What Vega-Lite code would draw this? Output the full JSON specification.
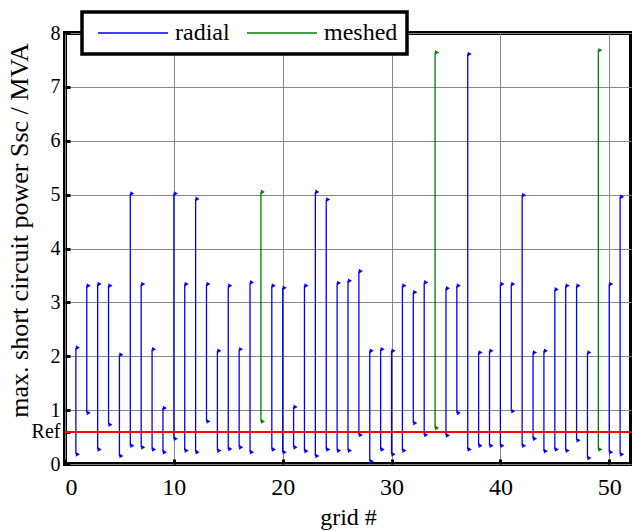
{
  "$schema": "https://vega.github.io/schema/vega-lite/v6.json",
  "width": 566,
  "height": 431,
  "autosize": "none",
  "padding": {"left": 65, "top": 33, "right": 1, "bottom": 67},
  "background": "white",
  "config": {
    "font": "Liberation Serif",
    "view": {"stroke": "black", "strokeWidth": 4},
    "axis": {
      "labelFont": "Liberation Serif",
      "titleFont": "Liberation Serif",
      "labelFontSize": 24,
      "titleFontSize": 24,
      "titleFontWeight": "normal",
      "labelColor": "black",
      "titleColor": "black",
      "gridColor": "#888888",
      "gridOpacity": 1,
      "gridWidth": 1,
      "domain": false,
      "tickColor": "black",
      "tickWidth": 3,
      "tickSize": -5,
      "labelOverlap": false
    },
    "legend": {"strokeWidth": 3.5}
  },
  "data": {
    "values": [
      {"grid": 1, "min": 0.18, "max": 2.16, "type": "radial"},
      {"grid": 2, "min": 0.95, "max": 3.31, "type": "radial"},
      {"grid": 3, "min": 0.27, "max": 3.34, "type": "radial"},
      {"grid": 4, "min": 0.73, "max": 3.31, "type": "radial"},
      {"grid": 5, "min": 0.15, "max": 2.03, "type": "radial"},
      {"grid": 6, "min": 0.34, "max": 5.02, "type": "radial"},
      {"grid": 7, "min": 0.31, "max": 3.34, "type": "radial"},
      {"grid": 8, "min": 0.27, "max": 2.13, "type": "radial"},
      {"grid": 9, "min": 0.22, "max": 1.04, "type": "radial"},
      {"grid": 10, "min": 0.47, "max": 5.02, "type": "radial"},
      {"grid": 11, "min": 0.25, "max": 3.34, "type": "radial"},
      {"grid": 12, "min": 0.22, "max": 4.92, "type": "radial"},
      {"grid": 13, "min": 0.79, "max": 3.34, "type": "radial"},
      {"grid": 14, "min": 0.25, "max": 2.10, "type": "radial"},
      {"grid": 15, "min": 0.28, "max": 3.31, "type": "radial"},
      {"grid": 16, "min": 0.31, "max": 2.13, "type": "radial"},
      {"grid": 17, "min": 0.22, "max": 3.37, "type": "radial"},
      {"grid": 18, "min": 0.79, "max": 5.05, "type": "meshed"},
      {"grid": 19, "min": 0.27, "max": 3.31, "type": "radial"},
      {"grid": 20, "min": 0.22, "max": 3.27, "type": "radial"},
      {"grid": 21, "min": 0.31, "max": 1.06, "type": "radial"},
      {"grid": 22, "min": 0.24, "max": 3.31, "type": "radial"},
      {"grid": 23, "min": 0.15, "max": 5.05, "type": "radial"},
      {"grid": 24, "min": 0.27, "max": 4.91, "type": "radial"},
      {"grid": 25, "min": 0.25, "max": 3.36, "type": "radial"},
      {"grid": 26, "min": 0.25, "max": 3.40, "type": "radial"},
      {"grid": 27, "min": 0.54, "max": 3.58, "type": "radial"},
      {"grid": 28, "min": 0.05, "max": 2.10, "type": "radial"},
      {"grid": 29, "min": 0.27, "max": 2.13, "type": "radial"},
      {"grid": 30, "min": 0.18, "max": 2.10, "type": "radial"},
      {"grid": 31, "min": 0.25, "max": 3.31, "type": "radial"},
      {"grid": 32, "min": 0.76, "max": 3.19, "type": "radial"},
      {"grid": 33, "min": 0.54, "max": 3.37, "type": "radial"},
      {"grid": 34, "min": 0.67, "max": 7.64, "type": "meshed"},
      {"grid": 35, "min": 0.53, "max": 3.26, "type": "radial"},
      {"grid": 36, "min": 0.95, "max": 3.31, "type": "radial"},
      {"grid": 37, "min": 0.27, "max": 7.61, "type": "radial"},
      {"grid": 38, "min": 0.34, "max": 2.07, "type": "radial"},
      {"grid": 39, "min": 0.34, "max": 2.10, "type": "radial"},
      {"grid": 40, "min": 0.34, "max": 3.34, "type": "radial"},
      {"grid": 41, "min": 0.98, "max": 3.34, "type": "radial"},
      {"grid": 42, "min": 0.34, "max": 4.99, "type": "radial"},
      {"grid": 43, "min": 0.47, "max": 2.07, "type": "radial"},
      {"grid": 44, "min": 0.24, "max": 2.10, "type": "radial"},
      {"grid": 45, "min": 0.27, "max": 3.24, "type": "radial"},
      {"grid": 46, "min": 0.25, "max": 3.31, "type": "radial"},
      {"grid": 47, "min": 0.44, "max": 3.31, "type": "radial"},
      {"grid": 48, "min": 0.11, "max": 2.07, "type": "radial"},
      {"grid": 49, "min": 0.27, "max": 7.68, "type": "meshed"},
      {"grid": 50, "min": 0.22, "max": 3.34, "type": "radial"},
      {"grid": 51, "min": 0.18, "max": 4.96, "type": "radial"}
    ]
  },
  "layer": [
    {
      "mark": {"type": "rule", "strokeWidth": 1.3},
      "encoding": {
        "x": {
          "field": "grid",
          "type": "quantitative",
          "scale": {"domain": [0, 52], "nice": false},
          "axis": {"values": [0, 10, 20, 30, 40, 50], "title": "grid #", "labelPadding": 16, "titlePadding": 6}
        },
        "y": {
          "field": "min",
          "type": "quantitative",
          "scale": {"domain": [0, 8], "nice": false},
          "axis": {
            "values": [0, 0.6, 1, 2, 3, 4, 5, 6, 7, 8],
            "labelExpr": "datum.value == 0.6 ? 'Ref' : datum.label",
            "labelFontSize": 20,
            "title": "max. short circuit power Ssc / MVA",
            "titleFontSize": 26,
            "labelPadding": 10,
            "titleX": -46,
            "titleY": 197,
            "titleBaseline": "middle"
          }
        },
        "y2": {"field": "max"},
        "color": {
          "field": "type",
          "type": "nominal",
          "scale": {"domain": ["radial", "meshed"], "range": ["#0000ff", "#007f00"]},
          "legend": {
            "title": null,
            "orient": "none",
            "legendX": 17,
            "legendY": -21,
            "direction": "horizontal",
            "fillColor": "white",
            "strokeColor": "black",
            "padding": 9,
            "symbolOffset": 5,
            "symbolType": "M-1,0H6",
            "symbolSize": 400,
            "symbolStrokeWidth": 1.3,
            "labelFont": "Liberation Serif",
            "labelFontSize": 24,
            "labelColor": "black",
            "columnPadding": 10,
            "labelOffset": 55
          }
        }
      }
    },
    {
      "mark": {"type": "point", "shape": "triangle-right", "filled": true, "size": 22, "opacity": 1, "xOffset": 2},
      "encoding": {
        "x": {"field": "grid", "type": "quantitative"},
        "y": {"field": "min", "type": "quantitative"},
        "color": {"field": "type", "type": "nominal", "legend": null}
      }
    },
    {
      "mark": {"type": "point", "shape": "triangle-right", "filled": true, "size": 22, "opacity": 1, "xOffset": 2},
      "encoding": {
        "x": {"field": "grid", "type": "quantitative"},
        "y": {"field": "max", "type": "quantitative"},
        "color": {"field": "type", "type": "nominal", "legend": null}
      }
    },
    {
      "mark": {"type": "rule", "color": "#ff0000", "strokeWidth": 1.5},
      "encoding": {"y": {"datum": 0.6}}
    }
  ]
}
